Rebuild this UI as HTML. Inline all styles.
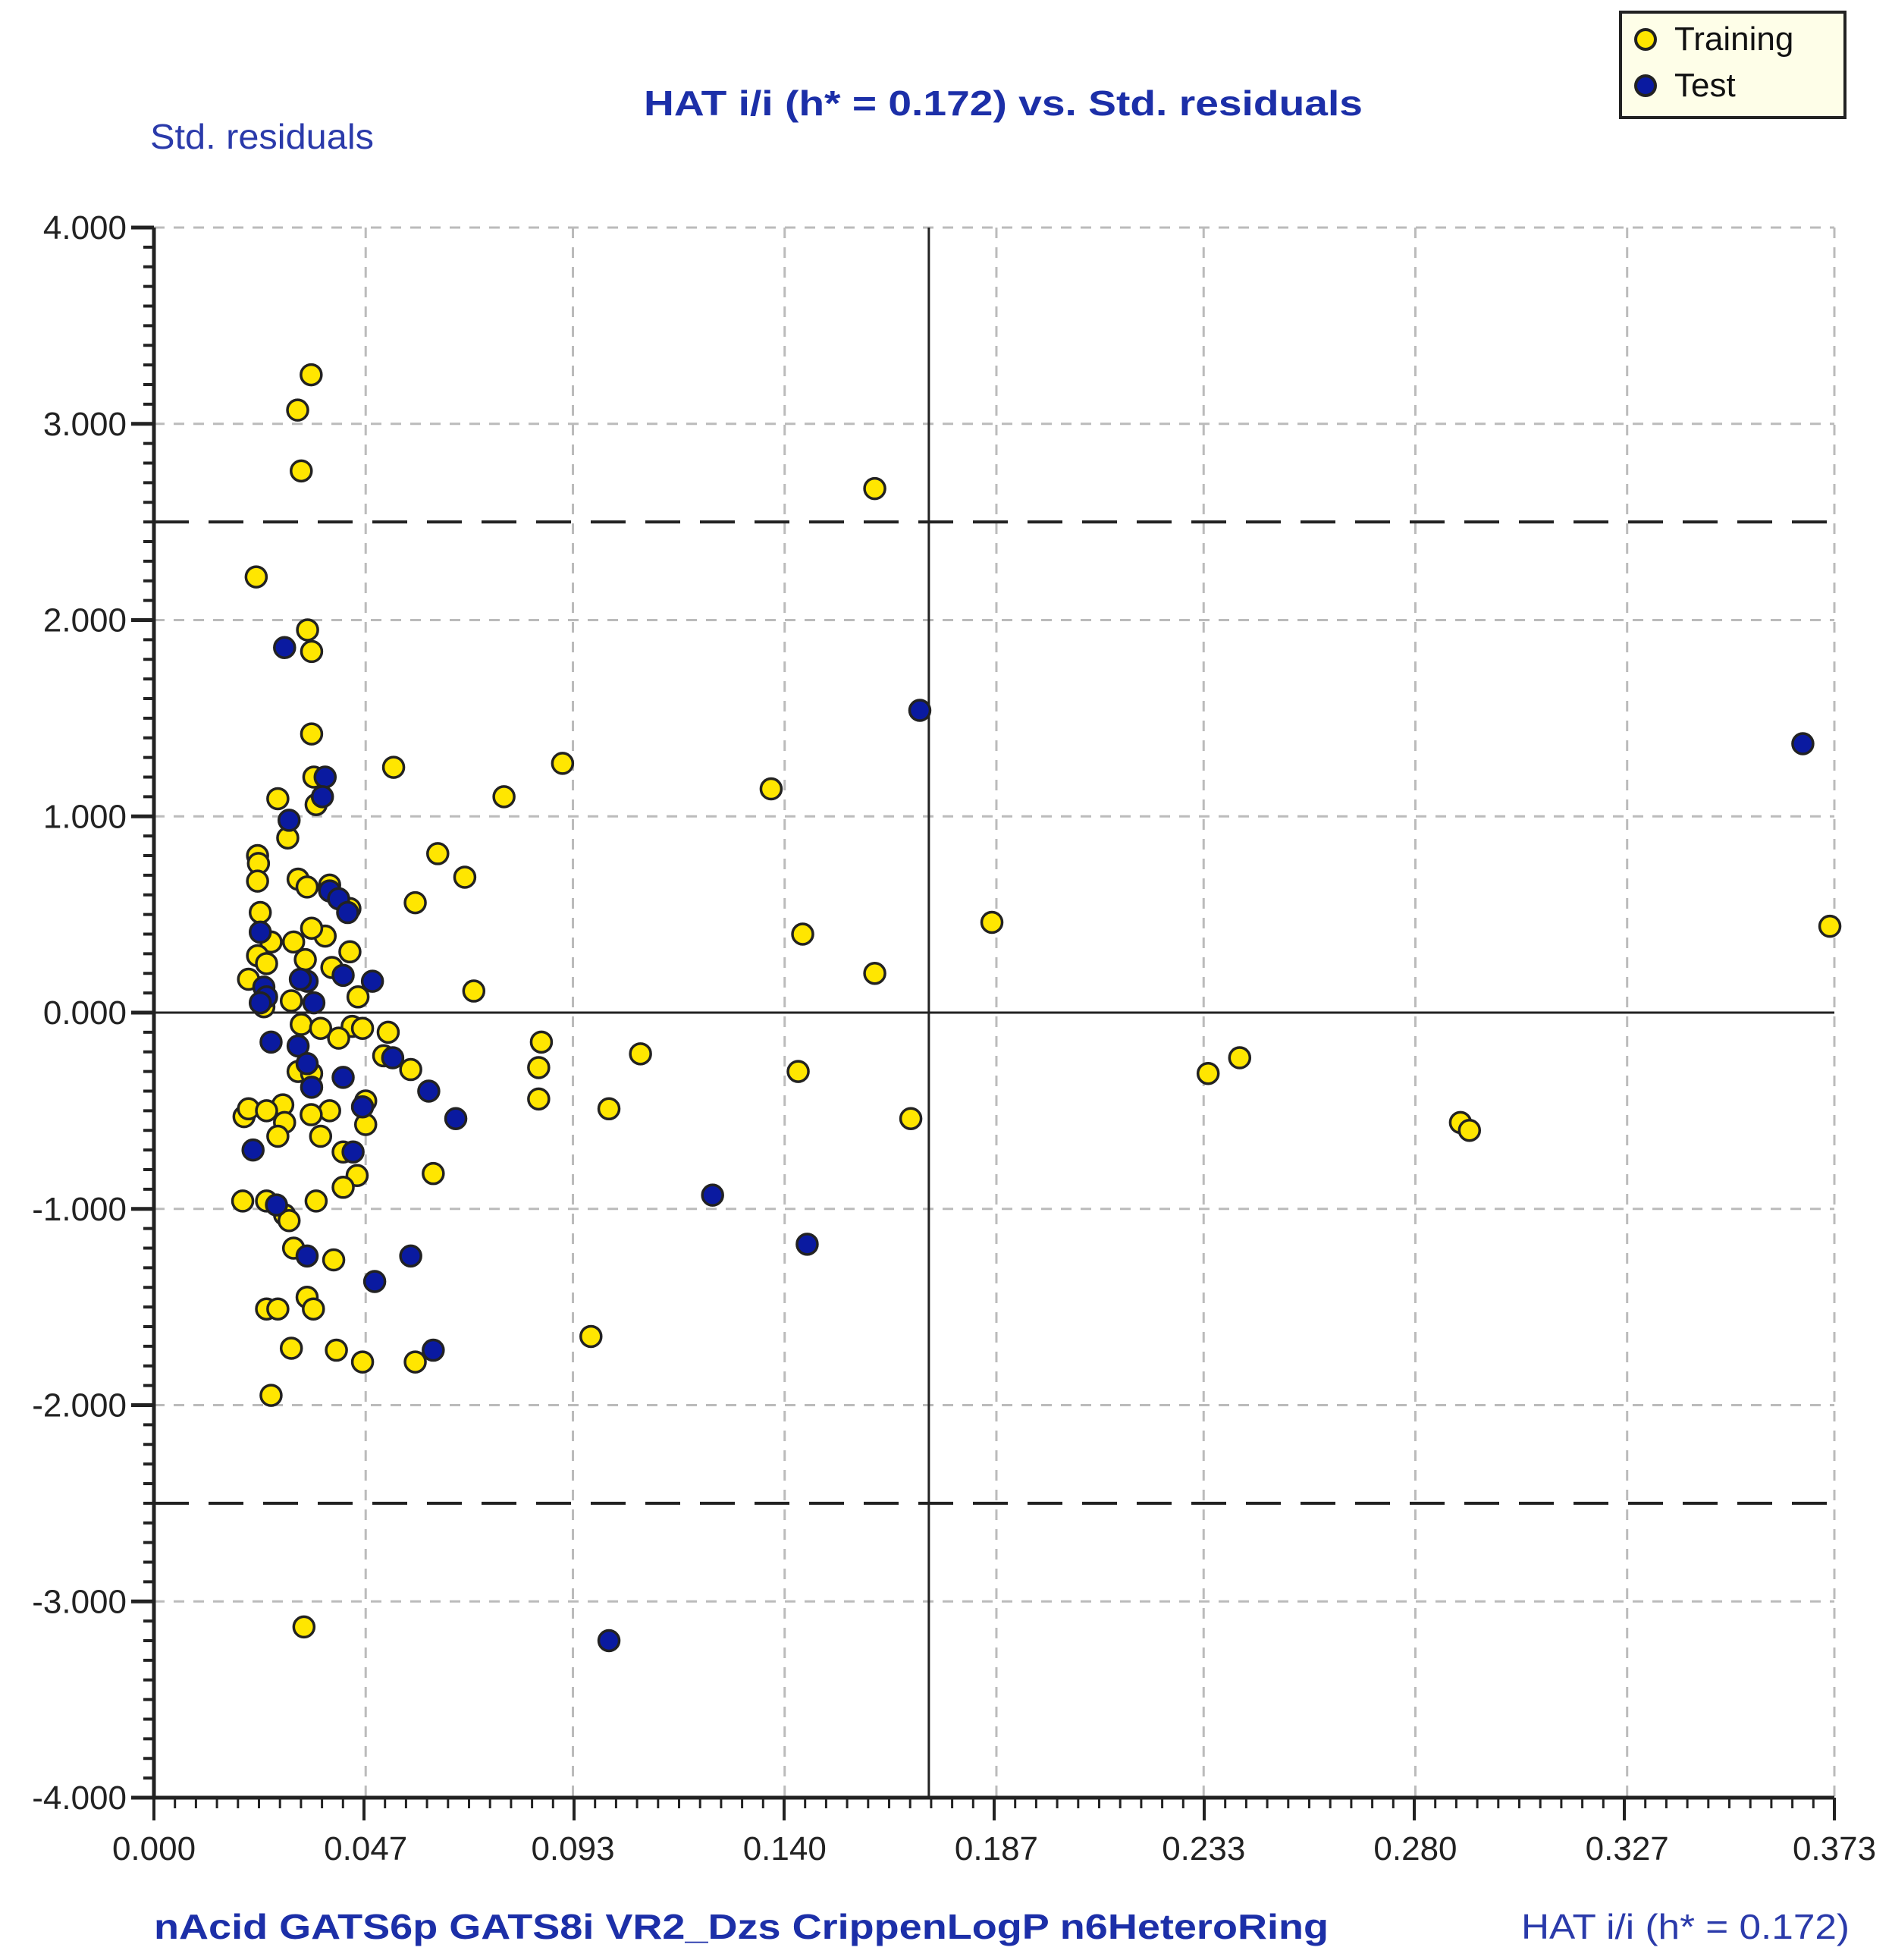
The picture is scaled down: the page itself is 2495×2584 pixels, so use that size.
<!DOCTYPE html>
<html><head><meta charset="utf-8"><style>
html,body{margin:0;padding:0;background:#fff;}
svg{display:block;font-family:"Liberation Sans","DejaVu Sans",sans-serif;}
</style></head><body>
<svg id="chart" width="2495" height="2584" viewBox="0 0 2495 2584" xmlns="http://www.w3.org/2000/svg">
<rect width="2495" height="2584" fill="#fff"/>
<text x="1323" y="152" text-anchor="middle" font-size="46" font-weight="bold" fill="#1c2fa8" textLength="948" lengthAdjust="spacingAndGlyphs">HAT i/i (h* = 0.172) vs. Std. residuals</text>
<text x="198" y="196" font-size="46" fill="#2a3aaa" textLength="295" lengthAdjust="spacingAndGlyphs">Std. residuals</text>
<text x="203" y="2556" font-size="46" font-weight="bold" fill="#1c2fa8" textLength="1549" lengthAdjust="spacingAndGlyphs">nAcid  GATS6p  GATS8i  VR2_Dzs  CrippenLogP  n6HeteroRing</text>
<text x="2439" y="2556" text-anchor="end" font-size="46" fill="#2a3aaa" textLength="433" lengthAdjust="spacingAndGlyphs">HAT i/i (h* = 0.172)</text>
<g id="grid"></g><g id="axes"></g><g id="marks"></g>
<g>
<rect x="2137" y="16" width="296" height="139" fill="#fefee8" stroke="#222" stroke-width="4"/>
<circle cx="2170" cy="52" r="13" fill="#ffe600" stroke="#222" stroke-width="4"/>
<text x="2208" y="66" font-size="44" fill="#111">Training</text>
<circle cx="2170" cy="113" r="13" fill="#0a1aa0" stroke="#222" stroke-width="4"/>
<text x="2208" y="127" font-size="44" fill="#111">Test</text>
</g>
</svg>
<script>
const xTicks=[0,0.047,0.093,0.140,0.187,0.233,0.280,0.327,0.373];
const xTickLabels=["0.000","0.047","0.093","0.140","0.187","0.233","0.280","0.327","0.373"];
const yTicks=[4,3,2,1,0,-1,-2,-3,-4];
const yTickLabels=["4.000","3.000","2.000","1.000","0.000","-1.000","-2.000","-3.000","-4.000"];
const hStar=0.172;
const resLimit=2.5;
const trainX=[0.0349,0.0319,0.0327,0.160,0.0227,0.0341,0.035,0.035,0.0532,0.0907,0.0777,0.137,0.0275,0.0355,0.036,0.0297,0.023,0.0232,0.023,0.032,0.034,0.039,0.063,0.069,0.058,0.0435,0.0236,0.144,0.186,0.372,0.160,0.071,0.026,0.031,0.038,0.035,0.023,0.0336,0.025,0.0435,0.0395,0.021,0.0453,0.0305,0.0244,0.0327,0.037,0.044,0.0463,0.052,0.041,0.051,0.057,0.086,0.0854,0.0854,0.108,0.143,0.101,0.168,0.234,0.241,0.290,0.292,0.032,0.035,0.020,0.021,0.0286,0.025,0.029,0.0275,0.039,0.0349,0.037,0.047,0.047,0.042,0.0451,0.042,0.062,0.0197,0.025,0.036,0.029,0.030,0.031,0.0399,0.034,0.0354,0.025,0.0275,0.0305,0.0405,0.0463,0.058,0.097,0.026,0.0333];
const trainY=[3.25,3.07,2.76,2.67,2.22,1.95,1.84,1.42,1.25,1.27,1.10,1.14,1.09,1.20,1.06,0.89,0.80,0.76,0.67,0.68,0.64,0.65,0.81,0.69,0.56,0.53,0.51,0.40,0.46,0.44,0.20,0.11,0.36,0.36,0.39,0.43,0.29,0.27,0.25,0.31,0.23,0.17,0.08,0.06,0.03,-0.06,-0.08,-0.07,-0.08,-0.10,-0.13,-0.22,-0.29,-0.15,-0.28,-0.44,-0.21,-0.30,-0.49,-0.54,-0.31,-0.23,-0.56,-0.60,-0.30,-0.31,-0.53,-0.49,-0.47,-0.50,-0.56,-0.63,-0.50,-0.52,-0.63,-0.45,-0.57,-0.71,-0.83,-0.89,-0.82,-0.96,-0.96,-0.96,-1.03,-1.06,-1.20,-1.26,-1.45,-1.51,-1.51,-1.51,-1.71,-1.72,-1.78,-1.78,-1.65,-1.95,-3.13];
const testX=[0.029,0.170,0.366,0.038,0.0374,0.030,0.039,0.041,0.043,0.0236,0.0244,0.025,0.034,0.0325,0.042,0.0485,0.0355,0.0236,0.026,0.032,0.034,0.035,0.042,0.053,0.061,0.0463,0.067,0.022,0.0442,0.0272,0.124,0.145,0.034,0.057,0.049,0.062,0.101];
const testY=[1.86,1.54,1.37,1.20,1.10,0.98,0.62,0.58,0.51,0.41,0.13,0.08,0.16,0.17,0.19,0.16,0.05,0.05,-0.15,-0.17,-0.26,-0.38,-0.33,-0.23,-0.40,-0.48,-0.54,-0.70,-0.71,-0.98,-0.93,-1.18,-1.24,-1.24,-1.37,-1.72,-3.20];

const X0=203,X1=2419,Y0=300,Y1=2370,XMAX=0.373,YMIN=-4,YMAX=4;
const sx=v=>X0+v/XMAX*(X1-X0);
const sy=v=>Y0+(YMAX-v)/(YMAX-YMIN)*(Y1-Y0);
const NS="http://www.w3.org/2000/svg";
function mk(tag,attrs,parent){const e=document.createElementNS(NS,tag);for(const k in attrs)e.setAttribute(k,attrs[k]);parent.appendChild(e);return e;}
const grid=document.getElementById('grid'),axes=document.getElementById('axes'),marks=document.getElementById('marks');

xTicks.forEach((t,i)=>{if(i===0)return;const l=mk('line',{x1:sx(t),x2:sx(t),y1:Y0,y2:Y1,stroke:'#bbb','stroke-width':3,'stroke-dasharray':'14 12'},grid);

});
yTicks.forEach((t,i)=>{if(t===YMIN)return;const l=mk('line',{x1:X0,x2:X1,y1:sy(t),y2:sy(t),stroke:'#bbb','stroke-width':3,'stroke-dasharray':'14 12'},grid);

});

[resLimit,-resLimit].forEach(v=>{const l=mk('line',{x1:X0,x2:X1,y1:sy(v),y2:sy(v),stroke:'#222','stroke-width':4,'stroke-dasharray':'46 26'},axes);

});
const z=mk('line',{x1:X0,x2:X1,y1:sy(0),y2:sy(0),stroke:'#222','stroke-width':3},axes);


const hl=mk('line',{x1:sx(hStar),x2:sx(hStar),y1:Y0,y2:Y1,stroke:'#222','stroke-width':3},axes);



const ya=mk('line',{x1:X0,x2:X0,y1:Y0,y2:Y1+2,stroke:'#222','stroke-width':5},axes);


const xa=mk('line',{x1:X0-2,x2:X1,y1:Y1,y2:Y1,stroke:'#222','stroke-width':5},axes);



for(let k=0;k<=80;k++){const v=YMAX-k*0.1;const major=k%10===0;mk('line',{x1:X0-(major?30:14),x2:X0,y1:sy(v),y2:sy(v),stroke:'#222','stroke-width':major?5:4},axes);}
for(let k=0;k<=80;k++){const v=k*XMAX/80;const major=k%10===0;mk('line',{x1:sx(v),x2:sx(v),y1:Y1,y2:Y1+(major?30:14),stroke:'#222','stroke-width':major?4:3},axes);}

yTickLabels.forEach((s,i)=>{const t=mk('text',{x:X0-36,y:sy(yTicks[i])+15,'text-anchor':'end','font-size':44,fill:'#222'},axes);t.textContent=s;

});
xTickLabels.forEach((s,i)=>{const t=mk('text',{x:sx(xTicks[i]),y:2452,'text-anchor':'middle','font-size':44,fill:'#222'},axes);t.textContent=s;

});

trainX.forEach((x,i)=>{const c=mk('circle',{cx:sx(x),cy:sy(trainY[i]),r:13.5,fill:'#ffe600',stroke:'#222','stroke-width':3.5},marks);

});
testX.forEach((x,i)=>{const c=mk('circle',{cx:sx(x),cy:sy(testY[i]),r:13.5,fill:'#0a1aa0',stroke:'#222','stroke-width':3.5},marks);

});
</script>
</body></html>
